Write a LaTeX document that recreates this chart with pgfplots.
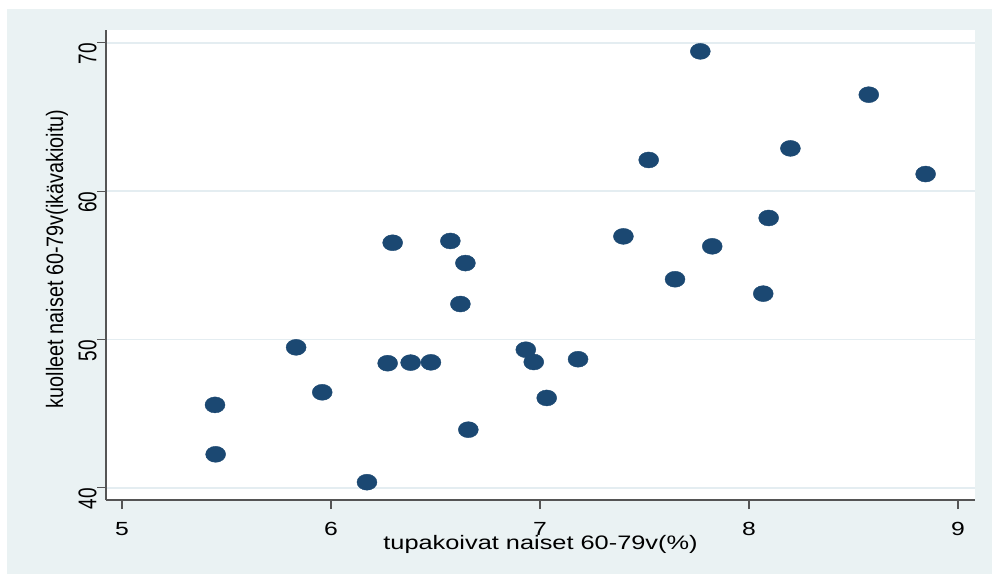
\documentclass[border=0pt]{standalone}
\usepackage{pgfplots}
\pgfplotsset{compat=1.18}
\usepackage{fontspec}
\setmainfont{Liberation Sans}
\definecolor{bgc}{RGB}{234,242,243}
\definecolor{gridc}{RGB}{228,237,241}
\definecolor{mk}{RGB}{27,72,114}
\definecolor{axc}{RGB}{85,85,85}
\begin{document}
\begin{tikzpicture}[x=1pt,y=1pt]
\useasboundingbox (0,0) rectangle (992,574);
\fill[bgc] (7,0) rectangle (992,565);
\begin{axis}[
  at={(106pt,74pt)}, anchor=south west,
  scale only axis, width=869pt, height=470pt,
  xmin=4.9234, xmax=9.0813, ymin=39.18, ymax=70.86,
  axis background/.style={fill=white},
  axis lines*=left,
  axis line style={axc, line width=1.3pt},
  tick style={axc, line width=1.2pt},
  tick align=outside,
  major tick length=9pt,
  xtick={5,6,7,8,9}, ytick={40,50,60,70},
  ymajorgrids, grid style={gridc, line width=1.5pt},
  /pgf/number format/assume math mode=true,
  ticklabel style={font=\fontsize{19}{22}\selectfont, inner sep=0pt},
  xticklabel style={xscale=1.3, anchor=north, yshift=-13pt},
  yticklabel style={xscale=1.35, rotate=90, anchor=south, xshift=-11pt},
  every axis x label/.style={at={(axis description cs:0.5,0)}, anchor=base, yshift=-49pt, xscale=1.3, font=\fontsize{19.5}{22}\selectfont, inner sep=0pt},
  every axis y label/.style={at={(axis description cs:0,0.513)}, anchor=base, xshift=-43pt, xscale=1.2, rotate=90, font=\fontsize{19.8}{22}\selectfont, inner sep=0pt},
  xlabel={tupakoivat naiset 60-79v(\%)},
  ylabel={kuolleet naiset 60-79v(ikävakioitu)},
  clip=false,
]
\addplot[only marks, mark=*, mark size=8pt, mark options={fill=mk, draw=mk, line width=0.4pt, xscale=1.25}] table {
x y
5.445 45.59
5.448 42.26
5.833 49.47
5.958 46.44
6.172 40.38
6.271 48.40
6.295 56.52
6.381 48.44
6.478 48.46
6.571 56.64
6.643 55.15
6.619 52.39
6.657 43.92
6.932 49.31
6.970 48.48
7.032 46.06
7.182 48.67
7.399 56.95
7.520 62.10
7.646 54.06
7.767 69.42
7.824 56.28
8.068 53.09
8.094 58.19
8.198 62.88
8.573 66.50
8.845 61.15
};
\end{axis}
\end{tikzpicture}
\end{document}
